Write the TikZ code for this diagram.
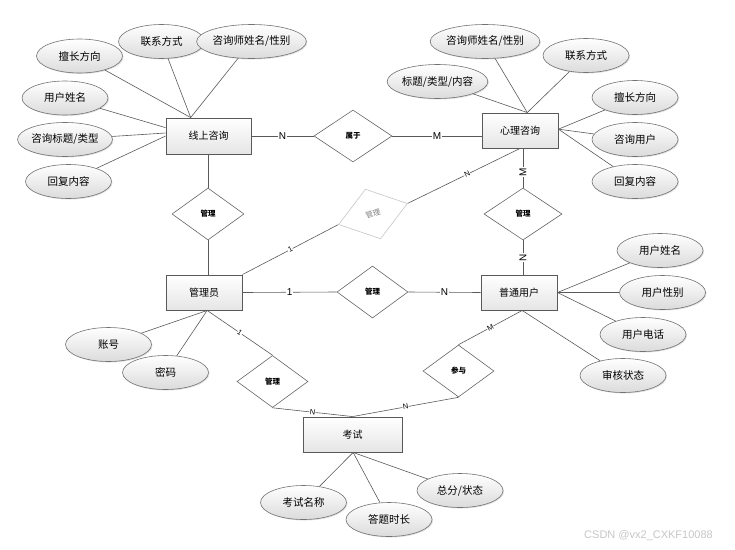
\documentclass[tikz,border=0pt]{standalone}
\usepackage{fontspec}
\setmainfont{Noto Sans CJK SC}
\newfontfamily\latinf{Liberation Sans}
\usetikzlibrary{shapes.geometric,shadows}
\begin{document}
\begin{tikzpicture}[x=1pt,y=-1pt,
  ent/.style={rectangle, draw=black!65, line width=0.9pt, top color=white, bottom color=gray!20,
    minimum width=76pt, minimum height=35pt, inner sep=0pt, font=\fontsize{10}{12}\selectfont,
    drop shadow={shadow xshift=1.2pt, shadow yshift=-1.2pt, opacity=0.3, fill=gray}},
  attr/.style={ellipse, draw=black!55, line width=0.6pt, top color=white, bottom color=gray!28,
    minimum width=86pt, minimum height=34pt, inner sep=0pt, font=\fontsize{10.5}{12}\selectfont,
    drop shadow={shadow xshift=1pt, shadow yshift=-1pt, opacity=0.25, fill=gray}},
  rel/.style={diamond, draw=black!60, line width=0.6pt, fill=white, minimum width=72pt,
    minimum height=52pt, inner sep=0pt, font=\fontsize{7.5}{8}\selectfont\bfseries},
  lnk/.style={draw=black!65, line width=0.6pt},
  card/.style={font=\latinf\fontsize{10}{11}\selectfont, fill=white, inner sep=0.6pt},
  cards/.style={font=\latinf\fontsize{7.5}{8}\selectfont, fill=white, inner sep=0.4pt}
]
\useasboundingbox (0,0) rectangle (735,549);

% entities
\node[ent, minimum width=85pt, minimum height=36pt] (xsq) at (208.5,136) {线上咨询};
\node[ent] (xlzx) at (520,130.5) {心理咨询};
\node[ent] (gly) at (204,292.5) {管理员};
\node[ent] (ptyh) at (519,292.5) {普通用户};
\node[ent, minimum width=99pt] (ks) at (352.5,434.5) {考试};

% relationships
\node[rel, minimum width=78pt] (sy) at (353,136) {属于};
\node[rel] (gl1) at (208,214) {管理};
\node[rel, minimum width=78pt] (gl2) at (523,214) {管理};
\node[rel, rotate=17, draw=gray!45, text=gray, font=\fontsize{7.5}{8}\selectfont] (gl3) at (373,214) {管理};
\node[rel, minimum width=71pt] (gl4) at (372.5,292) {管理};
\node[rel, minimum width=71pt] (gl5) at (272.5,381.5) {管理};
\node[rel, minimum width=71pt] (cy) at (458.5,371) {参与};

% attributes of 线上咨询
\node[attr] (a1) at (79.5,56) {擅长方向};
\node[attr] (a2) at (161.5,41.5) {联系方式};
\node[attr] (a3) at (251.5,41.5) {咨询师姓名/性别};
\node[attr] (a4) at (65,98) {用户姓名};
\node[attr] (a5) at (65,139.5) {咨询标题/类型};
\node[attr] (a6) at (68.5,181.5) {回复内容};
% attributes of 心理咨询
\node[attr] (b1) at (485,41.5) {咨询师姓名/性别};
\node[attr] (b2) at (586,55.5) {联系方式};
\node[attr] (b3) at (437.5,81.5) {标题/类型/内容};
\node[attr] (b4) at (635,97.5) {擅长方向};
\node[attr] (b5) at (635,139.5) {咨询用户};
\node[attr] (b6) at (635,181.5) {回复内容};
% attributes of 管理员
\node[attr] (c1) at (108.5,344.5) {账号};
\node[attr] (c2) at (165.5,372.5) {密码};
% attributes of 普通用户
\node[attr] (d1) at (660,250.5) {用户姓名};
\node[attr] (d2) at (662.5,292.5) {用户性别};
\node[attr] (d3) at (643,334.5) {用户电话};
\node[attr] (d4) at (623,375.5) {审核状态};
% attributes of 考试
\node[attr] (e1) at (303.5,502.5) {考试名称};
\node[attr] (e2) at (389,519.5) {答题时长};
\node[attr] (e3) at (460,490.5) {总分/状态};

% attribute links
\draw[lnk] (a1) -- (xsq.134);
\draw[lnk] (a2) -- (xsq.134);
\draw[lnk] (a3) -- (xsq.134);
\draw[lnk] (a4) -- (xsq.169);
\draw[lnk] (a5) -- (xsq.176);
\draw[lnk] (a6) -- (xsq.180);
\draw[lnk] (b1) -- (xlzx.68);
\draw[lnk] (b2) -- (xlzx.68);
\draw[lnk] (b3) -- (xlzx.68);
\draw[lnk] (b4) -- (xlzx.2);
\draw[lnk] (b5) -- (xlzx.2);
\draw[lnk] (b6) -- (xlzx.2);
\draw[lnk] (c1) -- (gly.-80);
\draw[lnk] (c2) -- (gly.-80);
\draw[lnk] (d1) -- (ptyh.east);
\draw[lnk] (d2) -- (ptyh.east);
\draw[lnk] (d3) -- (ptyh.east);
\draw[lnk] (d4) -- (ptyh.-80);
\draw[lnk] (e1) -- (ks.-88);
\draw[lnk] (e2) -- (ks.-88);
\draw[lnk] (e3) -- (ks.-88);

% relationship links
\draw[lnk] (xsq.east) -- node[card] {N} (sy.west);
\draw[lnk] (sy.east) -- node[card] {M} (sy.east -| xlzx.west);
\draw[lnk] (gl2.north |- xlzx.south) -- node[card, pos=0.6, rotate=90] {M} (gl2.north);
\draw[lnk] (gl2.south) -- node[card, rotate=90] {N} (gl2.south |- ptyh.north);
\draw[lnk] (xsq.south -| gl1.north) -- (gl1.north);
\draw[lnk] (gl1.south) -- (gl1.south |- gly.north);
\draw[lnk] (gly.north east) -- node[cards, sloped] {1} (gl3.west);
\draw[lnk] (gl3.east) -- node[cards, sloped, pos=0.53] {N} (xlzx.south);
\draw[lnk] (gly.east) -- node[card] {1} (gl4.west);
\draw[lnk] (gl4.east) -- node[card] {N} (ptyh.west);
\draw[lnk] (gly.-80) -- node[cards, sloped] {1} (gl5.north);
\draw[lnk] (gl5.south) -- node[cards, sloped] {N} (ks.north);
\draw[lnk] (ptyh.-80) -- node[cards, sloped] {M} (cy.north);
\draw[lnk] (cy.south) -- node[cards, sloped] {N} (ks.north);

% watermark
\node[font=\latinf\fontsize{11}{12}\selectfont, text=gray!45, inner sep=0pt] (wm) at (648.5,536) {CSDN @vx2\_CXKF10088};
\end{tikzpicture}
\end{document}
